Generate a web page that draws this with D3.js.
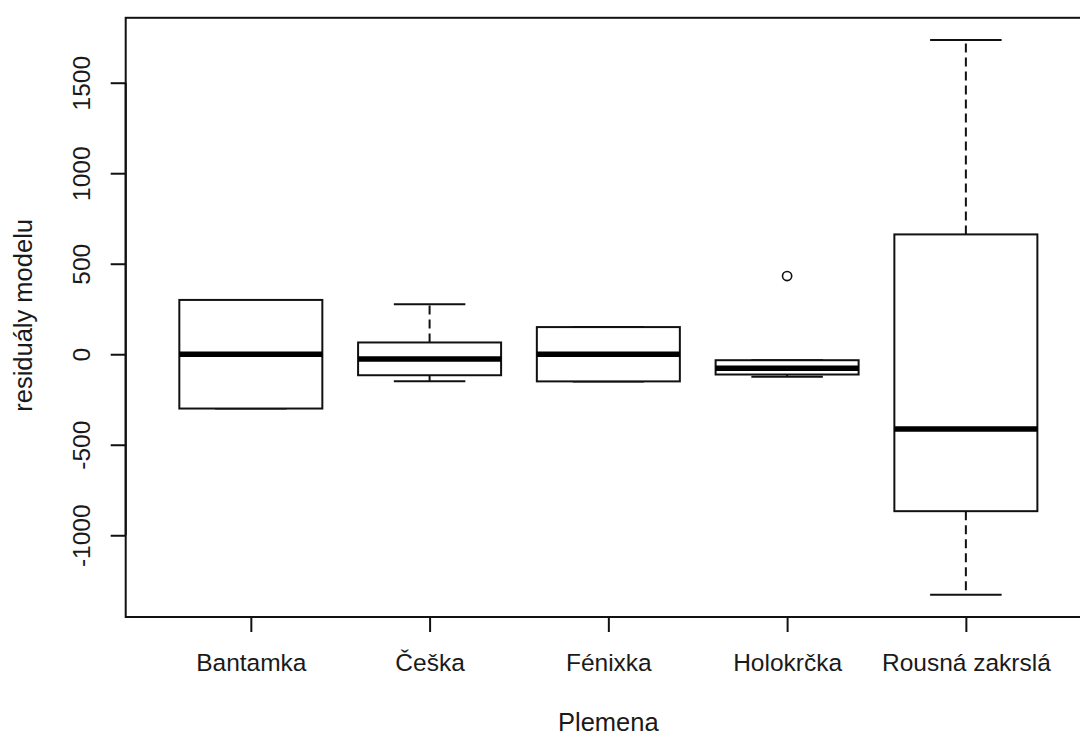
<!DOCTYPE html>
<html>
<head>
<meta charset="utf-8">
<script src="https://cdn.jsdelivr.net/npm/d3@7"></script>
<style>
  html, body { margin: 0; padding: 0; background: #fff; }
  svg { display: block; }
  text { font-family: "Liberation Sans", Arial, sans-serif; fill: #1a1a1a; }
</style>
</head>
<body>
<svg id="chart" width="1080" height="735"></svg>
<script>
// ---- data ----
const categories = ["Bantamka", "Češka", "Fénixka", "Holokrčka", "Rousná zakrslá"];
const lowerWhisker = [-300, -149, -150, -125, -1329];
const q1Values     = [-300, -116, -150, -112, -867];
const medians      = [0, -26, 0, -78, -413];
const q3Values     = [300, 65, 150, -33, 662];
const upperWhisker = [300, 276, 150, -33, 1736];
const outliers     = [[], [], [], [432], []];
const yTicks = [-1000, -500, 0, 500, 1000, 1500];
const yTickLabels = ["-1000", "-500", "0", "500", "1000", "1500"];
const xTitle = "Plemena";
const yTitle = "residuály modelu";

// ---- layout ----
const W = 1080, H = 735;
const plot = { left: 125.7, right: 1091, top: 17.8, bottom: 617 };
const lineH = 30;          // one R "line" of margin text
const fontSize = 24.5;
const titleSize = 25.5;
const ink = "#111";

const svg = d3.select("#chart");

const allVals = [].concat(lowerWhisker, upperWhisker, ...outliers);
const yMin = d3.min(allVals), yMax = d3.max(allVals);
const pad = 0.04 * (yMax - yMin);
const y = d3.scaleLinear().domain([yMin - pad, yMax + pad]).range([plot.bottom, plot.top]);

const n = categories.length;
const x = d3.scaleLinear().domain([0.5 - 0.04 * n, n + 0.5 + 0.04 * n]).range([plot.left, plot.right]);
const boxW = x(1.4) - x(1.0);   // half of 0.8
const stapleW = boxW / 2;

const data = categories.map((c, i) => ({
  cat: c, pos: i + 1,
  lo: lowerWhisker[i], q1: q1Values[i], med: medians[i], q3: q3Values[i], hi: upperWhisker[i],
  out: outliers[i]
}));

// boxes
const g = svg.append("g");
const bx = g.selectAll("g.box").data(data).join("g").attr("class", "box");

// whiskers (dashed)
bx.append("line")
  .attr("x1", d => x(d.pos)).attr("x2", d => x(d.pos))
  .attr("y1", d => y(d.q3)).attr("y2", d => y(d.hi))
  .attr("stroke", ink).attr("stroke-width", 2).attr("stroke-dasharray", "9,5");
bx.append("line")
  .attr("x1", d => x(d.pos)).attr("x2", d => x(d.pos))
  .attr("y1", d => y(d.q1)).attr("y2", d => y(d.lo))
  .attr("stroke", ink).attr("stroke-width", 2).attr("stroke-dasharray", "9,5");
// staples
bx.append("line")
  .attr("x1", d => x(d.pos) - stapleW).attr("x2", d => x(d.pos) + stapleW)
  .attr("y1", d => y(d.hi)).attr("y2", d => y(d.hi))
  .attr("stroke", ink).attr("stroke-width", 2);
bx.append("line")
  .attr("x1", d => x(d.pos) - stapleW).attr("x2", d => x(d.pos) + stapleW)
  .attr("y1", d => y(d.lo)).attr("y2", d => y(d.lo))
  .attr("stroke", ink).attr("stroke-width", 2);
// box rect
bx.append("rect")
  .attr("x", d => x(d.pos) - boxW).attr("width", 2 * boxW)
  .attr("y", d => y(d.q3)).attr("height", d => y(d.q1) - y(d.q3))
  .attr("fill", "#fff").attr("stroke", ink).attr("stroke-width", 2);
// median
bx.append("line")
  .attr("x1", d => x(d.pos) - boxW).attr("x2", d => x(d.pos) + boxW)
  .attr("y1", d => y(d.med)).attr("y2", d => y(d.med))
  .attr("stroke", "#000").attr("stroke-width", 5.5);
// outliers
bx.selectAll("circle").data(d => d.out.map(v => ({ pos: d.pos, v }))).join("circle")
  .attr("cx", d => x(d.pos)).attr("cy", d => y(d.v)).attr("r", 4.6)
  .attr("fill", "none").attr("stroke", ink).attr("stroke-width", 1.6);

// frame
svg.append("rect")
  .attr("x", plot.left).attr("y", plot.top)
  .attr("width", plot.right - plot.left).attr("height", plot.bottom - plot.top)
  .attr("fill", "none").attr("stroke", ink).attr("stroke-width", 2);

// y axis
const yAxis = svg.append("g").attr("transform", `translate(${plot.left},0)`)
  .call(d3.axisLeft(y).tickValues(yTicks).tickSize(lineH / 2)
        .tickFormat(v => yTickLabels[yTicks.indexOf(v)]));
yAxis.select(".domain")
  .attr("d", `M0,${y(yTicks[0])}V${y(yTicks[yTicks.length - 1])}`)
  .attr("stroke", ink).attr("stroke-width", 2);
yAxis.selectAll(".tick line").attr("stroke", ink).attr("stroke-width", 2);
yAxis.selectAll(".tick text")
  .attr("x", null).attr("dy", null)
  .attr("transform", `translate(${-1.2 * lineH},0) rotate(-90)`)
  .attr("text-anchor", "middle")
  .style("font-size", fontSize + "px")
  .style("font-family", '"Liberation Sans", Arial, sans-serif')
  .attr("fill", "#1a1a1a");

// x axis
const xAxis = svg.append("g").attr("transform", `translate(0,${plot.bottom})`)
  .call(d3.axisBottom(x).tickValues(d3.range(1, n + 1)).tickSize(lineH / 2)
        .tickFormat(i => categories[i - 1]));
xAxis.select(".domain")
  .attr("d", `M${x(1)},0H${x(n)}`)
  .attr("stroke", ink).attr("stroke-width", 2);
xAxis.selectAll(".tick line").attr("stroke", ink).attr("stroke-width", 2);
xAxis.selectAll(".tick text")
  .attr("y", 1.8 * lineH).attr("dy", null)
  .style("font-size", fontSize + "px")
  .style("font-family", '"Liberation Sans", Arial, sans-serif')
  .attr("fill", "#1a1a1a");

// titles
svg.append("text")
  .attr("x", (plot.left + plot.right) / 2).attr("y", plot.bottom + 3.8 * lineH)
  .attr("text-anchor", "middle").style("font-size", titleSize + "px")
  .text(xTitle);
svg.append("text")
  .attr("transform", `translate(${plot.left - 3.2 * lineH + 2},${(plot.top + plot.bottom) / 2 - 2}) rotate(-90)`)
  .attr("text-anchor", "middle").style("font-size", titleSize + "px")
  .text(yTitle);
</script>
</body>
</html>
